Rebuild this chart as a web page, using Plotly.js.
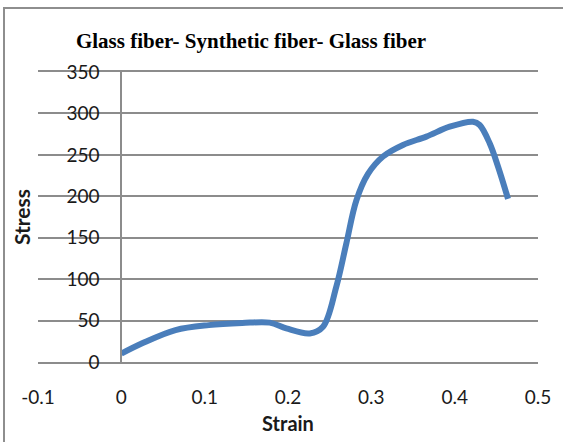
<!DOCTYPE html>
<html>
<head>
<meta charset="utf-8">
<script src="https://cdn.plot.ly/plotly-3.0.1.min.js"></script>
<style>
  html, body { margin: 0; padding: 0; background: #ffffff; }
  #wrap { position: relative; width: 563px; height: 442px; overflow: hidden; }
  #chart { position: absolute; left: 0; top: 0; width: 563px; height: 442px; }
  .frameTop { position: absolute; left: 3px; top: 7px; width: 560px; height: 2px; background: #8e8e8e; }
  .frameLeft { position: absolute; left: 3px; top: 7px; width: 2px; height: 435px; background: #8e8e8e; }
</style>
</head>
<body>
<div id="wrap">
  <div id="chart"></div>
  <div class="frameTop"></div>
  <div class="frameLeft"></div>
</div>
<script>
// Data
const strain = [0, 0.025, 0.065, 0.105, 0.145, 0.178, 0.198, 0.226, 0.242, 0.258, 0.270, 0.282, 0.296, 0.314, 0.338, 0.366, 0.394, 0.422, 0.430, 0.442, 0.452, 0.464];
const stress = [10, 22.5, 38.5, 44.5, 47, 47.5, 40.5, 34.5, 42.5, 91, 143, 195, 227, 248, 262, 272, 284, 290, 286, 264, 236, 197];

const xTickVals = [-0.1, 0, 0.1, 0.2, 0.3, 0.4, 0.5];
const xTickText = ['-0.1', '0', '0.1', '0.2', '0.3', '0.4', '0.5'];
const yTickVals = [0, 50, 100, 150, 200, 250, 300, 350];
const yTickText = ['0', '50', '100', '150', '200', '250', '300', '350'];

const chartTitle = 'Glass fiber- Synthetic fiber- Glass fiber';
const xTitle = 'Strain';
const yTitle = 'Stress';

const xRange = [-0.1, 0.5];
const yRange = [0, 350];

const trace = {
  x: strain,
  y: stress,
  type: 'scatter',
  mode: 'lines',
  line: { color: '#4a7ebb', width: 6, shape: 'spline', smoothing: 1 },
  hoverinfo: 'skip',
  cliponaxis: false
};

const gray = '#8c8c8c';
const tickFont = { family: 'Lato, "Open Sans", sans-serif', size: 19, color: '#1a1a1a' };

const layout = {
  width: 563,
  height: 442,
  margin: { l: 38, r: 25, t: 72, b: 80 },
  paper_bgcolor: '#ffffff',
  plot_bgcolor: '#ffffff',
  showlegend: false,
  title: {
    text: '<b>' + chartTitle + '</b>',
    font: { family: '"Liberation Serif", "DejaVu Serif", serif', size: 21, color: '#000000' },
    xref: 'paper', x: 0.426, xanchor: 'center',
    yref: 'container', y: 0.907, yanchor: 'middle'
  },
  xaxis: {
    range: xRange,
    tickmode: 'array', tickvals: xTickVals, ticktext: xTickText,
    showgrid: false, zeroline: false,
    // the lines at stress 0 and 350 (bottom and top gridlines)
    showline: true, mirror: true, linecolor: gray, linewidth: 2,
    ticks: 'outside', ticklen: 17, tickcolor: 'rgba(0,0,0,0)',
    tickfont: tickFont,
    title: { text: '<b>' + xTitle + '</b>', font: { family: 'Lato, sans-serif', size: 20, color: '#1a1a1a' }, standoff: 10 },
    fixedrange: true
  },
  yaxis: {
    range: yRange,
    anchor: 'free', position: 1/6,
    tickmode: 'array', tickvals: yTickVals, ticktext: yTickText,
    showgrid: true, gridcolor: gray, gridwidth: 2,
    zeroline: false,
    showline: true, linecolor: gray, linewidth: 2,
    ticks: 'outside', ticklen: 17, tickcolor: 'rgba(0,0,0,0)',
    tickfont: tickFont,
    title: { text: '<b>' + yTitle + '</b>', font: { family: 'Lato, sans-serif', size: 21, color: '#1a1a1a' }, standoff: 29 },
    fixedrange: true
  }
};

Plotly.newPlot('chart', [trace], layout, { displayModeBar: false, staticPlot: true });
</script>
</body>
</html>
